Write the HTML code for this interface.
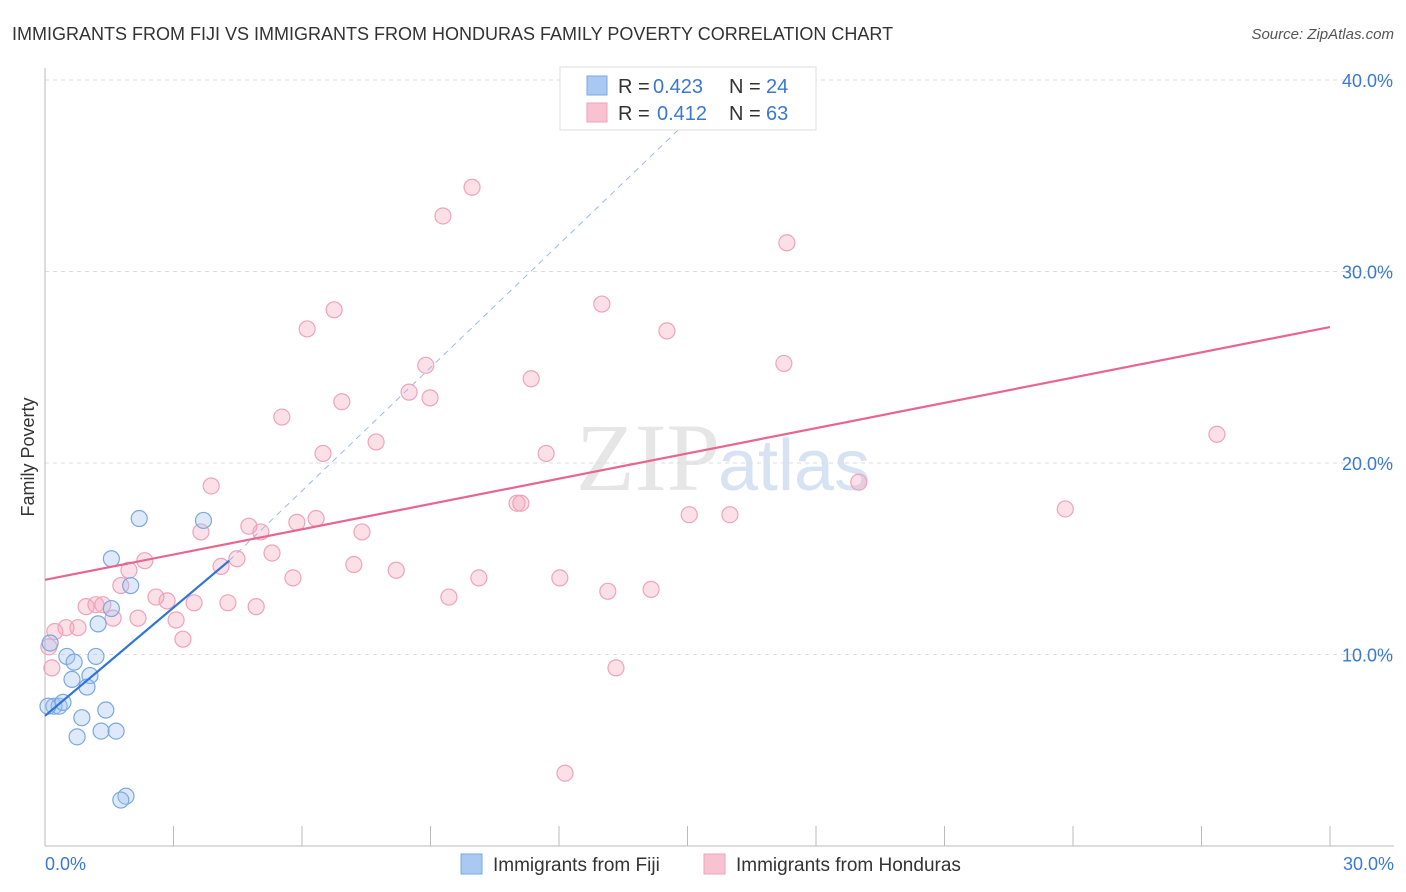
<!DOCTYPE html>
<html><head><meta charset="utf-8">
<style>
body{margin:0;background:#fff;font-family:"Liberation Sans",sans-serif;}
#wrap{position:relative;width:1406px;height:892px;overflow:hidden;}
</style></head>
<body>
<div id="wrap">
<svg id="chart" width="1406" height="892"></svg>
</div>
<script>
const xTicks=[0,3,6,9,12,15,18,21,24,27,30];
const yTicks=[10,20,30,40];
const fijiX=[2.2,3.7,1.55,2.0,1.55,1.24,0.51,1.19,0.68,1.05,0.63,0.98,0.12,0.21,0.33,0.42,0.86,1.42,0.75,1.31,1.66,1.89,1.77,0.07];
const fijiY=[17.1,17.0,15.0,13.6,12.4,11.6,9.9,9.9,9.6,8.9,8.7,8.3,10.6,7.3,7.3,7.5,6.7,7.1,5.7,6.0,6.0,2.6,2.4,7.3];
const hondX=[9.97,9.29,17.32,6.75,13.0,6.12,14.52,8.89,17.25,11.35,8.5,8.99,6.93,5.53,7.73,6.49,11.7,27.36,3.88,19.0,11.02,11.11,23.82,15.04,15.99,5.88,6.33,4.76,3.64,5.04,7.4,2.33,4.48,5.3,4.11,7.21,8.2,1.96,5.79,10.13,12.02,1.77,13.14,14.15,2.59,2.85,3.48,4.27,4.93,9.43,0.96,1.19,1.35,1.59,2.17,3.06,0.77,0.49,0.23,3.22,0.09,0.16,13.33,12.14];
const hondY=[34.4,32.9,31.5,28.0,28.3,27.0,26.9,25.1,25.2,24.4,23.7,23.4,23.2,22.4,21.1,20.5,20.5,21.5,18.8,19.0,17.9,17.9,17.6,17.3,17.3,16.9,17.1,16.7,16.4,16.4,16.4,14.9,15.0,15.3,14.6,14.7,14.4,14.4,14.0,14.0,14.0,13.6,13.3,13.4,13.0,12.8,12.7,12.7,12.5,13.0,12.5,12.6,12.6,11.9,11.9,11.8,11.4,11.4,11.2,10.8,10.4,9.3,9.3,3.8];
const fijiTrend=[[0,6.8],[4.3,14.9]];
const fijiDash=[[4.3,14.9],[16.0,40.0]];
const hondTrend=[[0,13.9],[30,27.1]];

const L=45,R=1330,T=80,B=846;
const sx=v=>L+(R-L)*v/30;
const sy=v=>B-(B-T)*v/40;
const NS="http://www.w3.org/2000/svg";
const svg=document.getElementById('chart');
function mk(tag,attrs,parent){const e=document.createElementNS(NS,tag);for(const k in attrs)e.setAttribute(k,attrs[k]);(parent||svg).appendChild(e);return e;}

let t=mk('text',{x:12,y:40,'font-size':18,fill:'#333'});t.textContent='IMMIGRANTS FROM FIJI VS IMMIGRANTS FROM HONDURAS FAMILY POVERTY CORRELATION CHART';


t=mk('text',{x:1394,y:39,'font-size':15,fill:'#555','text-anchor':'end','font-style':'italic'});t.textContent='Source: ZipAtlas.com';



// watermark
t=mk('text',{x:720,y:490,'font-size':96,fill:'#e6e6e6','text-anchor':'end','font-family':'Liberation Serif, serif'});t.textContent='ZIP';


t=mk('text',{x:718,y:490,'font-size':72,fill:'#d7e3f2'});t.textContent='atlas';



// gridlines
yTicks.forEach(v=>{
  const g=mk('line',{x1:L,x2:1394,y1:sy(v),y2:sy(v),stroke:'#ddd','stroke-dasharray':'4,4'});
  
  
  const l=mk('text',{x:1393,y:sy(v)+7,'font-size':18,fill:'#3a78d4','text-anchor':'end'});l.textContent=v.toFixed(1)+'%';
  
  
});
let ax=mk('line',{x1:L,x2:L,y1:68,y2:B,stroke:'#bbb'});


ax=mk('line',{x1:L,x2:1394,y1:B,y2:B,stroke:'#bbb'});


xTicks.forEach(v=>{
  const k=mk('line',{x1:sx(v),x2:sx(v),y1:826,y2:B,stroke:'#bbb'});
  
  
});
t=mk('text',{x:45,y:870,'font-size':18,fill:'#3a78d4'});t.textContent='0.0%';


t=mk('text',{x:1394,y:870,'font-size':18,fill:'#3a78d4','text-anchor':'end'});t.textContent='30.0%';


t=mk('text',{x:34,y:457,'font-size':18,fill:'#333','text-anchor':'middle',transform:'rotate(-90 34 457)'});t.textContent='Family Poverty';



// points
hondX.forEach((x,i)=>{
  const c=mk('circle',{cx:sx(x),cy:sy(hondY[i]),r:8,fill:'rgba(244,167,190,0.35)',stroke:'#efa3ba','stroke-width':1.2});
  
  
});
fijiX.forEach((x,i)=>{
  const c=mk('circle',{cx:sx(x),cy:sy(fijiY[i]),r:8,fill:'rgba(160,196,240,0.35)',stroke:'#7aa8e0','stroke-width':1.2});
  
  
});
// trends
let ln=mk('line',{x1:sx(hondTrend[0][0]),y1:sy(hondTrend[0][1]),x2:sx(hondTrend[1][0]),y2:sy(hondTrend[1][1]),stroke:'#e8658f','stroke-width':2.2});


ln=mk('line',{x1:sx(fijiDash[0][0]),y1:sy(fijiDash[0][1]),x2:sx(fijiDash[1][0]),y2:sy(fijiDash[1][1]),stroke:'#9bbbe6','stroke-width':1,'stroke-dasharray':'6,5'});


ln=mk('line',{x1:sx(fijiTrend[0][0]),y1:sy(fijiTrend[0][1]),x2:sx(fijiTrend[1][0]),y2:sy(fijiTrend[1][1]),stroke:'#2f74d6','stroke-width':2.2});



// legend box
const lg=mk('g',{});


mk('rect',{x:560,y:67,width:256,height:63,fill:'#fff',stroke:'#ddd'},lg);
[[0,'#a9c8f2','#7aa8e0','0.423','24'],[1,'#f7c2d2','#efa3ba','0.412','63']].forEach(([i,f,s,r,n])=>{
  const y=76+i*27;
  mk('rect',{x:587,y:y,width:20,height:19,fill:f,stroke:s},lg);
  let a=mk('text',{x:618,y:y+17,'font-size':20,fill:'#333'},lg);a.textContent='R = ';
  a=mk('text',{x:i?657:653,y:y+17,'font-size':20,fill:'#3a78d4'},lg);a.textContent=r;
  a=mk('text',{x:729,y:y+17,'font-size':20,fill:'#333'},lg);a.textContent='N = ';
  a=mk('text',{x:766,y:y+17,'font-size':20,fill:'#3a78d4'},lg);a.textContent=n;
});
// bottom legend
[[461,'#a9c8f2','#7aa8e0','Immigrants from Fiji','legend-fiji'],[704,'#f7c2d2','#efa3ba','Immigrants from Honduras','legend-honduras']].forEach(([x,f,s,lab,nm])=>{
  const g=mk('g',{});
  
  
  mk('rect',{x:x,y:854,width:21,height:20,fill:f,stroke:s},g);
  const a=mk('text',{x:x+32,y:871,'font-size':19,fill:'#333'},g);a.textContent=lab;
});
</script>
</body></html>
